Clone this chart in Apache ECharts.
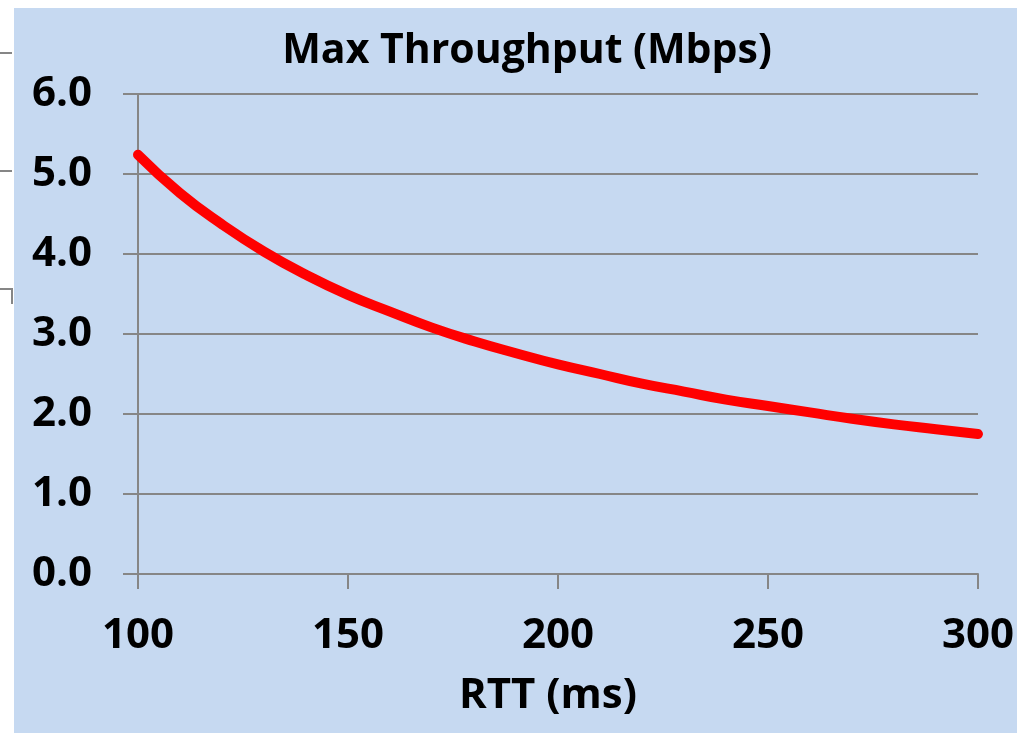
<!DOCTYPE html>
<html>
<head>
<meta charset="utf-8">
<script src="https://cdn.jsdelivr.net/npm/echarts@6/dist/echarts.min.js"></script>
<style>
  html, body { margin: 0; padding: 0; background: #ffffff; }
  #chart { width: 1017px; height: 733px; }
</style>
</head>
<body>
<div id="chart"></div>
<script>
// RTT in ms and the max throughput
const rtt = [100, 110, 120, 130, 140, 150, 160, 170, 180, 190, 200, 210, 220, 230, 240, 250, 260, 270, 280, 290, 300];
const throughput = [5.24, 4.76, 4.37, 4.03, 3.74, 3.49, 3.28, 3.08, 2.91, 2.76, 2.62, 2.50, 2.38, 2.28, 2.18, 2.10, 2.02, 1.94, 1.87, 1.81, 1.75];
const yTicks = [0, 1, 2, 3, 4, 5, 6];

const font = '"Open Sans", sans-serif';
const grey = '#868686';

let myChart = echarts.init(document.getElementById('chart'));
myChart.setOption({
  animation: false,
  backgroundColor: '#ffffff',
  title: {
    text: 'Max Throughput (Mbps)',
    left: 522,
    textAlign: 'center',
    top: 26,
    textStyle: { fontFamily: font, fontWeight: 'bold', fontSize: 41, color: '#000' }
  },
  graphic: [
    { type: 'rect', z: -10, shape: { x: 14, y: 8, width: 1003, height: 725 }, style: { fill: '#c6d9f1' } },
    { type: 'line', shape: { x1: 0, y1: 53, x2: 12, y2: 53 }, style: { stroke: grey, lineWidth: 2 } },
    { type: 'line', shape: { x1: 0, y1: 171, x2: 12, y2: 171 }, style: { stroke: grey, lineWidth: 2 } },
    { type: 'polyline', shape: { points: [[0, 289], [12, 289], [12, 304]] }, style: { stroke: grey, lineWidth: 2, fill: null } }
  ],
  grid: { left: 138, right: 39, top: 94, bottom: 159 },
  xAxis: {
    type: 'value',
    min: 100,
    max: 300,
    interval: 50,
    name: 'RTT (ms)',
    nameLocation: 'middle',
    nameGap: 101,
    nameTextStyle: { fontFamily: font, fontWeight: 'bold', fontSize: 42, color: '#000', padding: [0, 20, 0, 0] },
    axisLine: { show: true, lineStyle: { color: grey, width: 2 } },
    axisTick: { show: true, length: 15, lineStyle: { color: grey, width: 2 } },
    axisLabel: { margin: 41, fontFamily: font, fontWeight: 'bold', fontSize: 42, color: '#000' },
    splitLine: { show: false }
  },
  yAxis: {
    type: 'value',
    min: yTicks[0],
    max: yTicks[yTicks.length - 1],
    interval: 1,
    axisLine: { show: true, lineStyle: { color: grey, width: 2 } },
    axisTick: { show: true, length: 15, lineStyle: { color: grey, width: 2 } },
    axisLabel: {
      margin: 46,
      fontFamily: font, fontWeight: 'bold', fontSize: 42, color: '#000',
      formatter: function (v) { return v.toFixed(1); }
    },
    splitLine: { show: true, lineStyle: { color: grey, width: 2 } }
  },
  series: [{
    type: 'line',
    data: rtt.map((x, i) => [x, throughput[i]]),
    smooth: true,
    showSymbol: false,
    symbol: 'none',
    lineStyle: { color: '#ff0000', width: 10, cap: 'round' }
  }]
});
</script>
</body>
</html>
